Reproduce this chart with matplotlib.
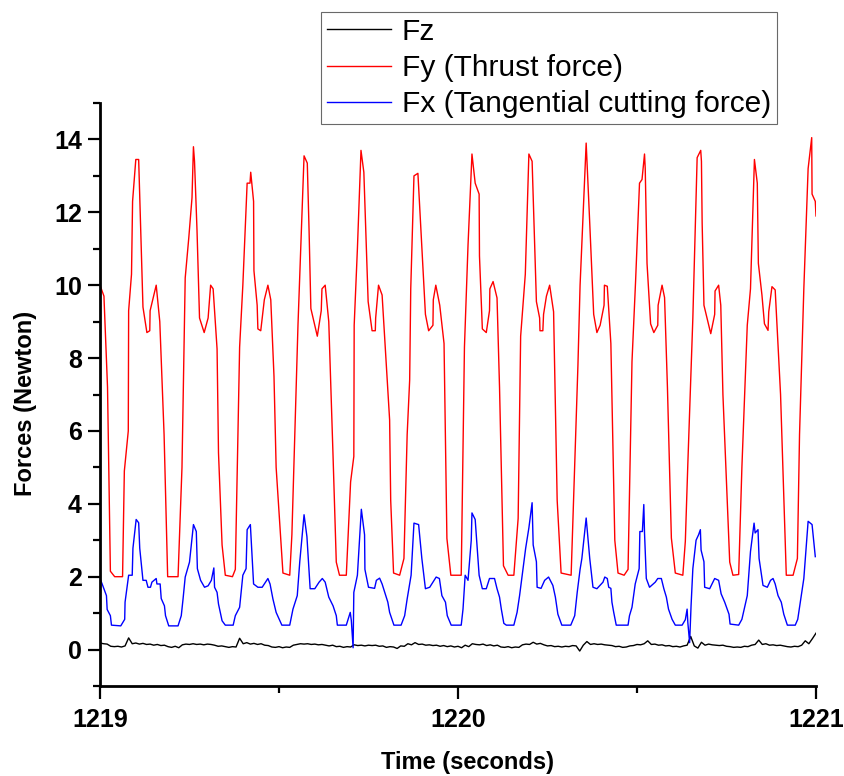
import numpy as np
import matplotlib
matplotlib.use("Agg")
import matplotlib.pyplot as plt
from matplotlib.ticker import MultipleLocator

plt.rcParams['font.family'] = ['Liberation Sans', 'DejaVu Sans']

# ---------------- data ----------------
t0 = 1219.0
# Fy (thrust force): vertex times in ms after t0, values in N
fy_ms = [0, 11, 21, 29, 41, 63, 68, 79, 80, 88, 91, 100, 108, 120, 131, 139, 140, 157, 167, 179,
         189, 218, 229, 238, 248, 257, 261, 264, 271, 278, 291, 302, 309, 316, 327, 331, 341, 350,
         370, 378, 390, 399, 411, 419, 421, 429, 430, 439, 441, 449, 459, 469, 477, 486, 492, 511,
         530, 536, 553, 561, 570, 579, 584, 589, 607, 618, 620, 629, 639, 651, 660, 669, 688, 700,
         709, 710, 719, 729, 737, 749, 760, 769, 770, 778, 788, 809, 812, 820, 837, 849, 858, 865,
         868, 877, 888, 909, 918, 930, 931, 938, 949, 961, 969, 980, 1009, 1018, 1028, 1039, 1048,
         1059, 1060, 1068, 1079, 1088, 1089, 1098, 1109, 1116, 1127, 1140, 1156, 1168, 1175, 1188,
         1198, 1207, 1219, 1228, 1229, 1237, 1239, 1247, 1256, 1267, 1277, 1288, 1316, 1335, 1341,
         1358, 1368, 1379, 1388, 1397, 1408, 1409, 1417, 1427, 1438, 1447, 1464, 1475, 1486, 1496,
         1507, 1514, 1521, 1523, 1528, 1538, 1547, 1558, 1559, 1570, 1577, 1585, 1596, 1607, 1628,
         1635, 1642, 1656, 1668, 1678, 1680, 1682, 1687, 1706, 1717, 1718, 1728, 1734, 1740, 1759,
         1768, 1784, 1793, 1808, 1817, 1828, 1836, 1839, 1849, 1856, 1866, 1868, 1877, 1886, 1901,
         1917, 1936, 1948, 1954, 1966, 1978, 1988, 1989, 1998, 2000]
fy = [10.0, 9.7, 7.2, 2.15, 2.0, 2.0, 4.9, 6.0, 9.3, 10.3, 12.3, 13.45, 13.45, 9.4, 8.7, 8.75, 9.3,
      10.0, 9.0, 5.9,
      2.0, 2.0, 5.0, 10.2, 11.3, 12.4, 13.8, 13.4, 11.5, 9.1, 8.7, 9.1, 10.0, 9.9, 8.25, 5.4, 2.87,
      2.04,
      2.0, 2.2, 8.3, 10.0, 12.8, 12.8, 13.1, 12.3, 10.4, 9.45, 8.8, 8.75, 9.6, 10.0, 9.6, 7.5, 5.0,
      2.1,
      2.04, 3.15, 8.9, 11.1, 13.55, 13.35, 11.5, 9.36, 8.6, 9.3, 9.9, 10.0, 9.0, 5.3, 2.4, 2.04,
      2.04, 4.6,
      5.3, 8.9, 11.0, 13.7, 13.1, 9.55, 8.75, 8.75, 9.1, 10.0, 9.73, 6.3, 4.1, 2.1, 2.04, 2.5, 5.9,
      7.4,
      9.9, 13.0, 13.07, 9.2, 8.75, 8.9, 9.6, 10.0, 9.45, 8.4, 3.05, 2.04, 2.04, 8.3, 11.1, 13.6,
      12.8,
      12.5, 10.8, 8.8, 8.7, 9.3, 9.9, 10.1, 9.65, 7.2, 2.3, 2.04, 2.04, 3.6, 8.6, 10.3,
      13.6, 13.4, 9.55, 9.1, 8.75, 8.75, 9.2, 9.7, 10.0, 9.27, 4.1, 2.1, 2.04, 7.8, 10.0,
      13.9, 11.7, 9.2, 8.7, 8.9, 9.45, 10.0, 9.97, 8.4, 3.0, 2.1, 2.04, 2.2, 7.9, 10.1,
      12.8, 12.9, 13.6, 13.2, 10.6, 8.94, 8.7, 8.9, 9.45, 10.0, 9.66, 7.2, 3.06, 2.1, 2.04,
      2.97, 5.1, 9.1, 13.5, 13.7, 13.4, 11.7, 9.45, 8.67, 9.2, 9.84, 10.0, 9.45, 7.0, 2.4,
      2.04, 2.06, 5.0, 8.9, 9.9, 13.45, 12.8, 10.6, 9.73, 8.94, 8.76, 9.27, 9.96, 9.87, 7.0,
      2.04, 2.04, 2.5, 5.9, 9.9, 13.2, 14.05, 12.5, 12.3, 11.9]

# Fx (tangential cutting force)
fx_ms = [0, 6, 18, 20, 29, 32, 58, 69, 70, 80, 90, 92, 101, 108, 111, 120, 129, 134, 141, 145, 157,
         159, 168, 171, 180, 183, 192, 218, 227, 232, 238, 250, 261, 269, 272, 281, 292, 302, 311,
         318, 320, 327, 331, 341, 350, 372, 378, 390, 399, 408, 411, 420, 429, 441, 453, 469, 475,
         483, 492, 508, 530, 539, 551, 558, 570, 578, 587, 600, 612, 621, 629, 639, 651, 660, 663,
         688, 699, 702, 707, 709, 719, 730, 739, 740, 750, 767, 772, 781, 788, 804, 809, 821, 841,
         851, 858, 869, 877, 890, 899, 909, 921, 930, 939, 948, 955, 965, 970, 981, 1009, 1014,
         1020, 1028, 1037, 1039, 1048, 1059, 1068, 1079, 1088, 1102, 1109, 1116, 1121, 1128, 1135,
         1156, 1165, 1172, 1189, 1198, 1207, 1210, 1219, 1221, 1232, 1242, 1253, 1265, 1272, 1279,
         1290, 1315, 1326, 1333, 1341, 1346, 1358, 1368, 1377, 1388, 1405, 1410, 1417, 1421, 1427,
         1430, 1435, 1442, 1475, 1479, 1486, 1495, 1506, 1508, 1515, 1519, 1521, 1526, 1535, 1551,
         1558, 1568, 1575, 1582, 1588, 1598, 1607, 1626, 1635, 1640, 1642, 1647, 1651, 1656, 1665,
         1672, 1677, 1679, 1687, 1689, 1703, 1717, 1728, 1735, 1745, 1757, 1760, 1784, 1793, 1808,
         1817, 1827, 1830, 1838, 1841, 1852, 1864, 1873, 1880, 1886, 1894, 1903, 1910, 1920, 1942,
         1949, 1966, 1978, 1989, 1998]
fx = [1.95, 1.8, 1.48, 1.1, 0.93, 0.67, 0.65, 0.83, 1.3, 2.04, 2.04, 2.78, 3.57, 3.48, 2.78, 1.9,
      1.9, 1.71, 1.71, 1.85, 1.95,
      1.8, 1.8, 1.4, 1.2, 0.93, 0.65, 0.65, 0.93, 1.39, 1.99, 2.4, 3.43, 3.24, 2.22, 1.9, 1.71,
      1.75, 1.9,
      2.24, 1.71, 1.57, 1.25, 0.79, 0.67, 0.67, 0.93, 1.16, 2.04, 2.22, 3.29, 3.43, 1.8, 1.71,
      1.71, 1.95, 1.8,
      1.39, 1.02, 0.67, 0.67, 1.11, 1.48, 2.41, 3.7, 3.1, 1.67, 1.67, 1.85, 1.95, 1.85, 1.44, 1.2,
      0.93, 0.67,
      0.67, 1.02, 0.8, 0.05, 1.57, 2.04, 3.85, 3.15, 2.2, 1.71, 1.68, 1.9, 1.96, 1.8, 1.3, 1.02,
      0.67, 0.67,
      0.93, 1.39, 2.04, 3.47, 3.43, 2.5, 1.67, 1.71, 1.85, 1.99, 1.95, 1.48, 1.3, 0.93, 0.67,
      0.67, 1.11,
      2.04, 1.9, 3.0, 3.75, 3.57, 2.04, 1.67, 1.67, 1.95, 1.95, 1.67, 1.44, 1.11, 0.72, 0.67,
      0.67, 1.02, 1.48, 2.78, 3.34, 4.03, 2.87, 2.41, 1.71, 1.68, 1.9, 1.99, 1.76, 1.44, 0.97,
      0.67, 0.67, 0.93, 1.57, 2.2, 2.5, 3.61, 2.5, 1.71, 1.67, 1.85, 1.99, 1.95, 1.71, 1.68,
      1.3, 1.02, 0.67, 0.67, 0.93, 1.16, 1.8, 2.22, 3.24, 3.24, 3.98, 3.2, 1.95, 1.71, 1.85,
      1.95, 1.95, 1.67, 1.44, 1.11, 0.83, 0.67, 0.67, 0.82, 1.11, 0.74, 0.19, 1.2, 2.22, 3.0,
      3.15, 3.29, 2.73, 2.41, 1.71, 1.67, 1.95, 1.9, 1.53, 1.3, 0.97, 0.7, 0.67, 0.83, 1.48,
      2.69, 3.47, 3.2, 3.29, 2.5, 1.76, 1.71, 1.9, 1.95, 1.8, 1.48, 1.3, 0.97, 0.67, 0.67,
      0.83, 1.95, 3.52, 3.43, 2.55]

# Fz: sampled every 10 ms from t0
fz = [0.18, 0.16, 0.15, 0.09, 0.08, 0.09, 0.07, 0.10, 0.32, 0.16,
      0.18, 0.15, 0.17, 0.14, 0.15, 0.12, 0.14, 0.11, 0.12, 0.08,
      0.06, 0.09, 0.05, 0.13, 0.15, 0.14, 0.16, 0.14, 0.15, 0.13,
      0.15, 0.14, 0.12, 0.09, 0.10, 0.08, 0.06, 0.08, 0.07, 0.31,
      0.16, 0.19, 0.15, 0.17, 0.14, 0.16, 0.12, 0.11, 0.07, 0.06,
      0.08, 0.05, 0.07, 0.06, 0.12, 0.14, 0.16, 0.15, 0.16, 0.14,
      0.15, 0.13, 0.14, 0.12, 0.10, 0.12, 0.08, 0.09, 0.06, 0.08,
      0.07, 0.13, 0.11, 0.12, 0.10, 0.12, 0.11, 0.12, 0.09, 0.10,
      0.06, 0.08, 0.07, 0.03, 0.10, 0.09, 0.16, 0.13, 0.19, 0.14,
      0.15, 0.12, 0.13, 0.11, 0.12, 0.09, 0.11, 0.08, 0.10, 0.07,
      0.09, 0.05, 0.12, 0.08, 0.16, 0.14, 0.13, 0.15, 0.11, 0.13,
      0.10, 0.12, 0.07, 0.06, 0.08, 0.05, 0.07, 0.06, 0.13, 0.15,
      0.14, 0.20, 0.15, 0.17, 0.13, 0.10, 0.11, 0.08, 0.09, 0.07,
      0.09, 0.08, 0.11, 0.10, -0.04, 0.12, 0.22, 0.14, 0.16, 0.14,
      0.15, 0.13, 0.12, 0.11, 0.08, 0.09, 0.06, 0.07, 0.10, 0.11,
      0.14, 0.13, 0.16, 0.24, 0.14, 0.15, 0.12, 0.13, 0.10, 0.11,
      0.08, 0.09, 0.07, 0.10, 0.12, 0.36, 0.10, 0.04, 0.20, 0.12,
      0.15, 0.13, 0.12, 0.11, 0.12, 0.09, 0.08, 0.06, 0.07, 0.06,
      0.09, 0.08, 0.12, 0.14, 0.26, 0.14, 0.16, 0.12, 0.13, 0.11,
      0.12, 0.10, 0.08, 0.07, 0.09, 0.08, 0.12, 0.24, 0.16, 0.30,
      0.45]

labels = ["Fz", "Fy (Thrust force)", "Fx (Tangential cutting force)"]
xticks = [1219, 1220, 1221]
yticks = [0, 2, 4, 6, 8, 10, 12, 14]

# ---------------- plot ----------------
t_fy = t0 + np.array(fy_ms) / 1000.0
t_fx = t0 + np.array(fx_ms) / 1000.0
t_fz = t0 + np.arange(len(fz)) * 0.01

fig = plt.figure(figsize=(8.44, 7.76), dpi=100)
ax = fig.add_axes([100 / 844, 1 - 686 / 776, 716 / 844, 583 / 776])

l1, = ax.plot(t_fz, fz, color='black', lw=1.0, label=labels[0])
l2, = ax.plot(t_fy, fy, color='#ff0000', lw=1.0, label=labels[1])
l3, = ax.plot(t_fx, fx, color='#0000ff', lw=1.0, label=labels[2])

ax.set_xlim(1219, 1221)
ax.set_ylim(-1, 15)
ax.set_xticks(xticks)
ax.set_yticks(yticks)
ax.xaxis.set_minor_locator(MultipleLocator(0.5))
ax.yaxis.set_minor_locator(MultipleLocator(1))
ax.set_xticklabels([str(v) for v in xticks], fontsize=18, fontweight='bold')
ax.set_yticklabels([str(v) for v in yticks], fontsize=18, fontweight='bold')
ax.tick_params(axis='both', which='major', direction='out', length=9, width=1.6)
ax.tick_params(axis='both', which='minor', direction='out', length=5, width=1.6)
ax.tick_params(axis='x', which='major', pad=7)
ax.tick_params(axis='y', which='major', pad=4)

for s in ['top', 'right']:
    ax.spines[s].set_visible(False)
for s in ['left', 'bottom']:
    ax.spines[s].set_linewidth(2)

ax.set_xlabel("Time (seconds)", fontsize=17, fontweight='bold')
ax.set_ylabel("Forces (Newton)", fontsize=17, fontweight='bold')
ax.xaxis.set_label_coords(0.513, -0.112)
ax.yaxis.set_label_coords(-0.088, 0.484)

leg = fig.legend(handles=[l1, l2, l3], labels=labels, loc='lower right',
                 bbox_to_anchor=(777 / 844, 1 - 124 / 776), fontsize=21.5,
                 frameon=True, fancybox=False, handlelength=2.17, handletextpad=0.35,
                 borderpad=0.2, labelspacing=0.27, borderaxespad=0)
leg.get_frame().set_edgecolor('#444444')
leg.get_frame().set_linewidth(0.8)
for line in leg.get_lines():
    line.set_linewidth(1.0)

fig.savefig("out.png", dpi=100)
